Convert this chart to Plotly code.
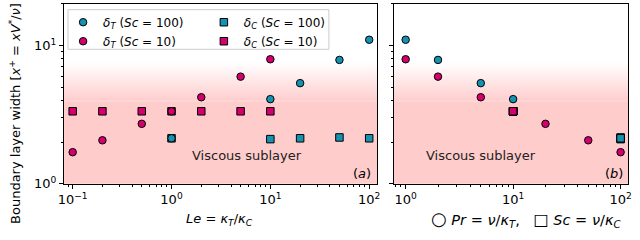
import plotly.graph_objects as go
import math

# ---------------- data ----------------
le_T100 = [1, 10, 20, 50, 100]
dT_100 = [2.13, 4.09, 5.34, 7.86, 11.0]
le_T10 = [0.1, 0.2, 0.5, 1, 2, 5, 10]
dT_10 = [1.69, 2.06, 2.71, 3.34, 4.22, 5.95, 7.95]
le_C100 = [1, 10, 20, 50, 100]
dC_100 = [2.13, 2.10, 2.13, 2.16, 2.13]
le_C10 = [0.1, 0.2, 0.5, 1, 2, 5, 10]
dC_10 = [3.34, 3.34, 3.34, 3.34, 3.34, 3.34, 3.34]

Sc_100 = 100
Sc_10 = 10
pr_T100 = [Sc_100 / v for v in le_T100]
pr_T10 = [Sc_10 / v for v in le_T10]
sc_C100 = [Sc_100 for _ in le_C100]
sc_C10 = [Sc_10 for _ in le_C10]

tick_vals = [0.1, 1, 10, 100]
tick_text = ["10<sup>\u22121</sup>", "10<sup>0</sup>", "10<sup>1</sup>", "10<sup>2</sup>"]
ytick_vals = [1, 10]
ytick_text = ["10<sup>0</sup>", "10<sup>1</sup>"]

TEAL = "#1592b2"
MAG = "#d3006d"
FONT = "DejaVu Sans"

W, H = 640, 240

def px(x):
    return x / W

def py(y):
    return (H - y) / H

fig = go.Figure()

mk = dict(size=7.5, line=dict(color="black", width=1))

# left panel: squares first, then circles
fig.add_trace(go.Scatter(x=le_C100, y=dC_100, mode="markers", name="<i>δ<sub>C</sub></i> (<i>Sc</i> = 100)",
                         marker=dict(symbol="square", color=TEAL, **mk), legend="legend2", legendrank=1,
                         xaxis="x", yaxis="y"))
fig.add_trace(go.Scatter(x=le_C10, y=dC_10, mode="markers", name="<i>δ<sub>C</sub></i> (<i>Sc</i> = 10)",
                         marker=dict(symbol="square", color=MAG, **mk), legend="legend2", legendrank=2,
                         xaxis="x", yaxis="y"))
fig.add_trace(go.Scatter(x=le_T100, y=dT_100, mode="markers", name="<i>δ<sub>T</sub></i> (<i>Sc</i> = 100)",
                         marker=dict(symbol="circle", color=TEAL, **mk), legend="legend", legendrank=1,
                         xaxis="x", yaxis="y"))
fig.add_trace(go.Scatter(x=le_T10, y=dT_10, mode="markers", name="<i>δ<sub>T</sub></i> (<i>Sc</i> = 10)",
                         marker=dict(symbol="circle", color=MAG, **mk), legend="legend", legendrank=2,
                         xaxis="x", yaxis="y"))

# right panel: circles first, then squares
fig.add_trace(go.Scatter(x=pr_T100, y=dT_100, mode="markers", showlegend=False,
                         marker=dict(symbol="circle", color=TEAL, **mk), xaxis="x2", yaxis="y2"))
fig.add_trace(go.Scatter(x=pr_T10, y=dT_10, mode="markers", showlegend=False,
                         marker=dict(symbol="circle", color=MAG, **mk), xaxis="x2", yaxis="y2"))
fig.add_trace(go.Scatter(x=sc_C100, y=dC_100, mode="markers", showlegend=False,
                         marker=dict(symbol="square", color=TEAL, **mk), xaxis="x2", yaxis="y2"))
fig.add_trace(go.Scatter(x=sc_C10, y=dC_10, mode="markers", showlegend=False,
                         marker=dict(symbol="square", color=MAG, **mk), xaxis="x2", yaxis="y2"))

# gradient background (viscous sublayer)
shapes = []
g_lo, g_hi = 0.455, 0.675
N = 40
pink = (255, 204, 204)
for xr, yr in (("x domain", "y domain"), ("x2 domain", "y2 domain")):
    shapes.append(dict(type="rect", xref=xr, yref=yr, x0=0, x1=1, y0=0, y1=g_lo + 0.001,
                       fillcolor="rgb(255,204,204)", line=dict(width=0), layer="below"))
    for i in range(N):
        f0 = g_lo + (g_hi - g_lo) * i / N
        f1 = g_lo + (g_hi - g_lo) * (i + 1) / N
        t = (i + 0.5) / N
        c = tuple(int(round(p + (255 - p) * t)) for p in pink)
        shapes.append(dict(type="rect", xref=xr, yref=yr, x0=0, x1=1, y0=f0, y1=f1 + 0.002,
                           fillcolor="rgb(%d,%d,%d)" % c, line=dict(width=0), layer="below"))

# legend frame
shapes.append(dict(type="rect", xref="paper", yref="paper", x0=px(63), x1=px(328), y0=py(51), y1=py(10),
                   fillcolor="rgba(255,255,255,0.8)", line=dict(color="#cccccc", width=1), layer="above"))

minor_x1 = [v * 10 ** e for e in (-2, -1, 0, 1) for v in range(2, 10)] + [200]
minor_y = [2, 3, 4, 5, 6, 7, 8, 9, 20]

axis_common = dict(type="log", showline=True, linecolor="black", linewidth=1.2, mirror=True,
                   ticks="outside", ticklen=4, tickwidth=1, tickcolor="black", showgrid=False,
                   zeroline=False, tickfont=dict(family=FONT, size=13, color="black"))

leg_common = dict(orientation="v", xanchor="left", yanchor="top", bgcolor="rgba(0,0,0,0)",
                  borderwidth=0, font=dict(family=FONT, size=12, color="black"), tracegroupgap=0)

fig.update_layout(
    width=W, height=H,
    margin=dict(l=0, r=0, t=0, b=0),
    paper_bgcolor="white", plot_bgcolor="white",
    font=dict(family=FONT, size=12, color="black"),
    shapes=shapes,
    xaxis=dict(domain=[px(59), px(377)], range=[-1.087, 2.08], tickvals=tick_vals, ticktext=tick_text,
               minor=dict(tickvals=minor_x1, ticks="outside", ticklen=2, tickcolor="black"),
               anchor="y", **axis_common),
    yaxis=dict(domain=[py(190), py(4)], range=[0, math.log10(20)], tickvals=ytick_vals, ticktext=ytick_text,
               minor=dict(tickvals=minor_y, ticks="outside", ticklen=2, tickcolor="black"),
               anchor="x", **axis_common),
    xaxis2=dict(domain=[px(394), px(632)], range=[-0.11, 2.07], tickvals=tick_vals, ticktext=tick_text,
                minor=dict(tickvals=minor_x1, ticks="outside", ticklen=2, tickcolor="black"),
                anchor="y2", **axis_common),
    yaxis2=dict(domain=[py(190), py(4)], range=[0, math.log10(20)], tickvals=ytick_vals, showticklabels=False,
                minor=dict(tickvals=minor_y, ticks="outside", ticklen=2, tickcolor="black"),
                anchor="x2", matches="y", **axis_common),
    legend=dict(x=px(58), y=py(8), **leg_common),
    legend2=dict(x=px(201), y=py(8), **leg_common),
    annotations=[
        dict(text="Boundary layer width [<i>x</i><sup>+</sup> = <i>xV</i><sup>*</sup>/<i>ν</i>]",
             xref="paper", yref="paper", x=px(9), y=py(117), textangle=-90, showarrow=False,
             xanchor="center", yanchor="middle", font=dict(size=13)),
        dict(text="<i>Le</i> = <i>κ<sub>T</sub></i>/<i>κ<sub>C</sub></i>", xref="paper", yref="paper",
             x=px(217), y=py(227), showarrow=False, xanchor="center", yanchor="middle", font=dict(size=13)),
        dict(text="<span style='font-size:18px'>\u25cb</span> <i>Pr</i> = <i>ν</i>/<i>κ<sub>T</sub></i>,   "
                  "<span style='font-size:16px'>\u25a1</span> <i>Sc</i> = <i>ν</i>/<i>κ<sub>C</sub></i>",
             xref="paper", yref="paper", x=px(528), y=py(227), showarrow=False, xanchor="center",
             yanchor="middle", font=dict(size=14.5)),
        dict(text="Viscous sublayer", xref="paper", yref="paper", x=px(245), y=py(161), showarrow=False,
             xanchor="center", yanchor="middle", font=dict(size=13, color="#222222")),
        dict(text="Viscous sublayer", xref="paper", yref="paper", x=px(483), y=py(161), showarrow=False,
             xanchor="center", yanchor="middle", font=dict(size=13, color="#222222")),
        dict(text="(<i>a</i>)", xref="paper", yref="paper", x=px(362), y=py(179), showarrow=False,
             xanchor="center", yanchor="middle", font=dict(size=13)),
        dict(text="(<i>b</i>)", xref="paper", yref="paper", x=px(618), y=py(179), showarrow=False,
             xanchor="center", yanchor="middle", font=dict(size=13)),
    ],
)

fig.write_html("out.html", config={"displayModeBar": False},
               post_script="document.body.style.margin='0';")
